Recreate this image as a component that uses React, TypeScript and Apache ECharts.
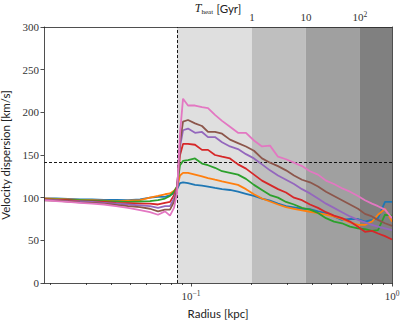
import React, { useEffect, useRef } from "react";
import * as echarts from "echarts";

// Radii (kpc) at which the profiles are sampled
const radius = [
  0.01856, 0.0213, 0.02444, 0.02805, 0.03218, 0.03693, 0.04237, 0.04861, 0.05577, 0.06252,
  0.06853, 0.07424, 0.07861, 0.0823, 0.08518, 0.08817, 0.09125, 0.09662, 0.1047, 0.1134,
  0.1215, 0.1316, 0.1427, 0.1563, 0.1713, 0.1877, 0.2057, 0.2255, 0.2472, 0.2709,
  0.2969, 0.3254, 0.3566, 0.3908, 0.4284, 0.4695, 0.5145, 0.5639, 0.618, 0.6773,
  0.7337, 0.795, 0.8518, 0.9229, 1.0,
];

// Velocity dispersion profiles (km/s)
const sigmaBlue = [
  99, 99, 98.5, 98, 98, 97.5, 97.5, 97, 98, 100, 101, 101, 103, 105, 110,
  117, 118, 117,
  115, 114, 113, 111.5, 110, 109, 107, 104.5, 102, 99, 96.5, 93, 90, 88.5, 87, 86.5, 84, 82, 78, 74, 75, 75, 72, 74, 76, 95, 95,
];
const sigmaOrange = [
  99, 98.5, 98, 97.5, 97, 96.5, 96, 96.5, 97, 100, 102, 104, 105, 108, 112,
  126, 129, 129,
  127, 125, 123, 121, 119, 117, 115, 110, 104, 99, 95.5, 92, 89, 87, 85, 83.5, 82, 80, 78, 75, 71, 68, 68, 72, 80, 87, 72,
];
const sigmaGreen = [
  98, 98, 97.5, 97, 96.5, 96, 95.5, 95, 95.5, 96, 97, 99, 102, 107, 113,
  138, 143, 144,
  146, 140, 138, 135, 131, 129, 127, 122, 115, 109, 103, 100, 95, 92, 88, 86, 82, 76, 72, 70, 66, 64, 63, 61, 62, 80, 79,
];
const sigmaRed = [
  98, 97.5, 97, 96, 95.5, 95, 94, 93.5, 93, 93, 92, 94, 95, 103, 112,
  150, 163, 163,
  162, 156, 156, 150, 148, 146, 139, 134, 127, 120, 115, 110, 106, 100, 97, 92, 88, 83, 79, 76, 72, 66, 60, 61, 58, 55, 51,
];
const sigmaPurple = [
  97.5, 97, 96, 95.5, 95, 94, 93, 92, 91, 90, 88, 90, 90, 99, 110,
  160, 179, 181,
  176, 177, 171, 171, 165, 160, 157, 151, 146, 139, 132, 126, 121, 116, 110, 105, 99, 93, 88, 83, 78, 74, 71, 68, 66, 64, 62,
];
const sigmaBrown = [
  97, 96.5, 95.5, 94.5, 94, 93, 91.5, 90, 89, 87, 84, 86, 86, 95, 108,
  165, 189, 191,
  187, 184, 177, 177, 175, 168, 164, 160, 155, 146, 141, 137, 132, 126, 121, 118, 113, 107, 102, 97, 92, 87, 81, 78, 74, 70, 67,
];
const sigmaPink = [
  97, 96, 95, 94, 93, 92, 90, 88, 85.5, 83, 80, 84, 79, 88, 105,
  175, 216, 208,
  208, 206, 205, 197, 190, 183, 176, 176, 167, 160, 161, 148, 145, 141, 137, 131, 127, 120, 116, 111, 107, 102, 97, 93, 90, 86, 76,
];

const profiles = [sigmaBlue, sigmaOrange, sigmaGreen, sigmaRed, sigmaPurple, sigmaBrown, sigmaPink];
const profileNames = ["run 1", "run 2", "run 3", "run 4", "run 5", "run 6", "run 7"];
const colors = ["#1f77b4", "#ff7f0e", "#2ca02c", "#d62728", "#9467bd", "#8c564b", "#e377c2"];

// Axes
const xMin = 0.01856;
const xMax = 1.0;
const xMajorTicks = [0.1, 1];
const xMajorExp = ["\u22121", "0"];
const xMinorTicks = [0.02, 0.03, 0.04, 0.05, 0.06, 0.07, 0.08, 0.09, 0.2, 0.3, 0.4, 0.5, 0.6, 0.7, 0.8, 0.9];
const yMin = 0;
const yMax = 300;
const yStep = 50;

// Heating time bands (radius edges, kpc) and top-axis labels (Gyr)
const heatEdges = [0.0852, 0.201, 0.373, 0.693, 1.0];
const heatTickPos = [0.201, 0.373, 0.693];
const heatTickBase = ["1", "10", "10"];
const heatTickExp = ["", "", "2"];
const bandColors = ["#dfdfdf", "#bfbfbf", "#a0a0a0", "#808080"];

const radiusCut = 0.0852;
const sigmaRef = 142;

const serif = "'Liberation Serif', 'DejaVu Serif', serif";
const sans = "Lato, 'DejaVu Sans', sans-serif";
const ink = "#222";

function nearestIndex(list: number[], v: number) {
  let best = 0;
  let bd = Infinity;
  list.forEach((x, i) => {
    const d = Math.abs(Math.log10(x) - Math.log10(v));
    if (d < bd) {
      bd = d;
      best = i;
    }
  });
  return best;
}

export default function App() {
  const ref = useRef<HTMLDivElement>(null);

  useEffect(() => {
    if (!ref.current) return;
    const chart = echarts.init(ref.current, undefined, { renderer: "svg" });

    const axisLineStyle = { color: ink, width: 0.8 };
    const supRich = {
      b: { fontFamily: serif, fontSize: 11, color: "#333", lineHeight: 14 },
      s: { fontFamily: serif, fontSize: 7.5, color: "#333", verticalAlign: "top", lineHeight: 8 },
    };

    const bandData = bandColors.map((c, i) => [
      { xAxis: heatEdges[i], itemStyle: { color: c } },
      { xAxis: heatEdges[i + 1] },
    ]);

    const lineSeries = profiles.map((vals, i) => ({
      type: "line",
      name: profileNames[i],
      xAxisIndex: 0,
      yAxisIndex: 0,
      data: radius.map((r, j) => [r, vals[j]]),
      showSymbol: false,
      symbol: "none",
      lineStyle: { width: 1.8, color: colors[i] },
      itemStyle: { color: colors[i] },
      z: 3 + i,
      silent: true,
    }));

    const option: any = {
      animation: false,
      backgroundColor: "#ffffff",
      grid: {
        left: 44,
        right: 15,
        top: 27,
        bottom: 43,
        containLabel: false,
        outerBoundsMode: "none",
      },
      xAxis: [
        {
          type: "log",
          logBase: 10,
          position: "bottom",
          min: xMin,
          max: xMax,
          z: 10,
          axisLine: { show: true, lineStyle: axisLineStyle },
          axisTick: { show: true, customValues: xMajorTicks, length: 3.5, lineStyle: axisLineStyle },
          axisLabel: {
            customValues: xMajorTicks,
            margin: 6,
            formatter: (v: number) => `{b|10}{s|${xMajorExp[nearestIndex(xMajorTicks, v)]}}`,
            rich: supRich,
          },
          splitLine: { show: false },
          minorTick: { show: false },
          name: "Radius [kpc]",
          nameLocation: "middle",
          nameGap: 24,
          nameTextStyle: { fontFamily: sans, fontSize: 11.5, color: ink },
        },
        {
          type: "log",
          logBase: 10,
          position: "bottom",
          min: xMin,
          max: xMax,
          z: 10,
          axisLine: { show: false },
          axisTick: { show: true, customValues: xMinorTicks, length: 2, lineStyle: axisLineStyle },
          axisLabel: { show: false },
          splitLine: { show: false },
        },
        {
          type: "log",
          logBase: 10,
          position: "top",
          min: xMin,
          max: xMax,
          z: 10,
          axisLine: { show: true, lineStyle: axisLineStyle },
          axisTick: { show: false },
          axisLabel: {
            customValues: heatTickPos,
            margin: 3,
            formatter: (v: number) => {
              const k = nearestIndex(heatTickPos, v);
              return heatTickExp[k] ? `{b|${heatTickBase[k]}}{s|${heatTickExp[k]}}` : `{b|${heatTickBase[k]}}`;
            },
            rich: supRich,
          },
          splitLine: { show: false },
          name: "{t|T}{h|heat} {g|[Gyr]}",
          nameLocation: "middle",
          nameGap: 12,
          nameMoveOverlap: false,
          nameTextStyle: {
            rich: {
              t: { fontFamily: serif, fontStyle: "italic", fontSize: 12, color: ink, lineHeight: 14 },
              h: { fontFamily: serif, fontSize: 7, color: ink, verticalAlign: "bottom", lineHeight: 8 },
              g: { fontFamily: sans, fontSize: 11.5, color: ink, lineHeight: 14 },
            },
          },
        },
      ],
      yAxis: [
        {
          type: "value",
          min: yMin,
          max: yMax,
          interval: yStep,
          z: 10,
          axisLine: { show: true, lineStyle: axisLineStyle },
          axisTick: { show: true, length: 3.5, lineStyle: axisLineStyle },
          axisLabel: { fontFamily: serif, fontSize: 11, color: "#333", margin: 5 },
          splitLine: { show: false },
          name: "Velocity dispersion [km/s]",
          nameLocation: "middle",
          nameRotate: 90,
          nameGap: 29,
          nameTextStyle: { fontFamily: sans, fontSize: 11.5, color: ink },
        },
        {
          type: "value",
          position: "right",
          min: yMin,
          max: yMax,
          interval: yStep,
          z: 10,
          axisLine: { show: true, lineStyle: axisLineStyle },
          axisTick: { show: false },
          axisLabel: { show: false },
          splitLine: { show: false },
        },
      ],
      series: [
        {
          type: "line",
          name: "bands",
          xAxisIndex: 0,
          yAxisIndex: 0,
          data: [],
          z: 1,
          silent: true,
          markArea: { silent: true, data: bandData, label: { show: false } },
        },
        ...lineSeries,
        {
          type: "line",
          name: "refs",
          xAxisIndex: 0,
          yAxisIndex: 0,
          data: [],
          z: 20,
          silent: true,
          markLine: {
            silent: true,
            precision: 6,
            symbol: ["none", "none"],
            label: { show: false },
            lineStyle: { type: [3, 2], color: "#000", width: 0.9 },
            emphasis: { disabled: true },
            data: [{ yAxis: sigmaRef }, { xAxis: radiusCut }],
          },
        },
      ],
    };

    chart.setOption(option);
    return () => chart.dispose();
  }, []);

  return (
    <div
      ref={ref}
      style={{ position: "fixed", left: 0, top: 0, width: 407, height: 326 }}
    />
  );
}
